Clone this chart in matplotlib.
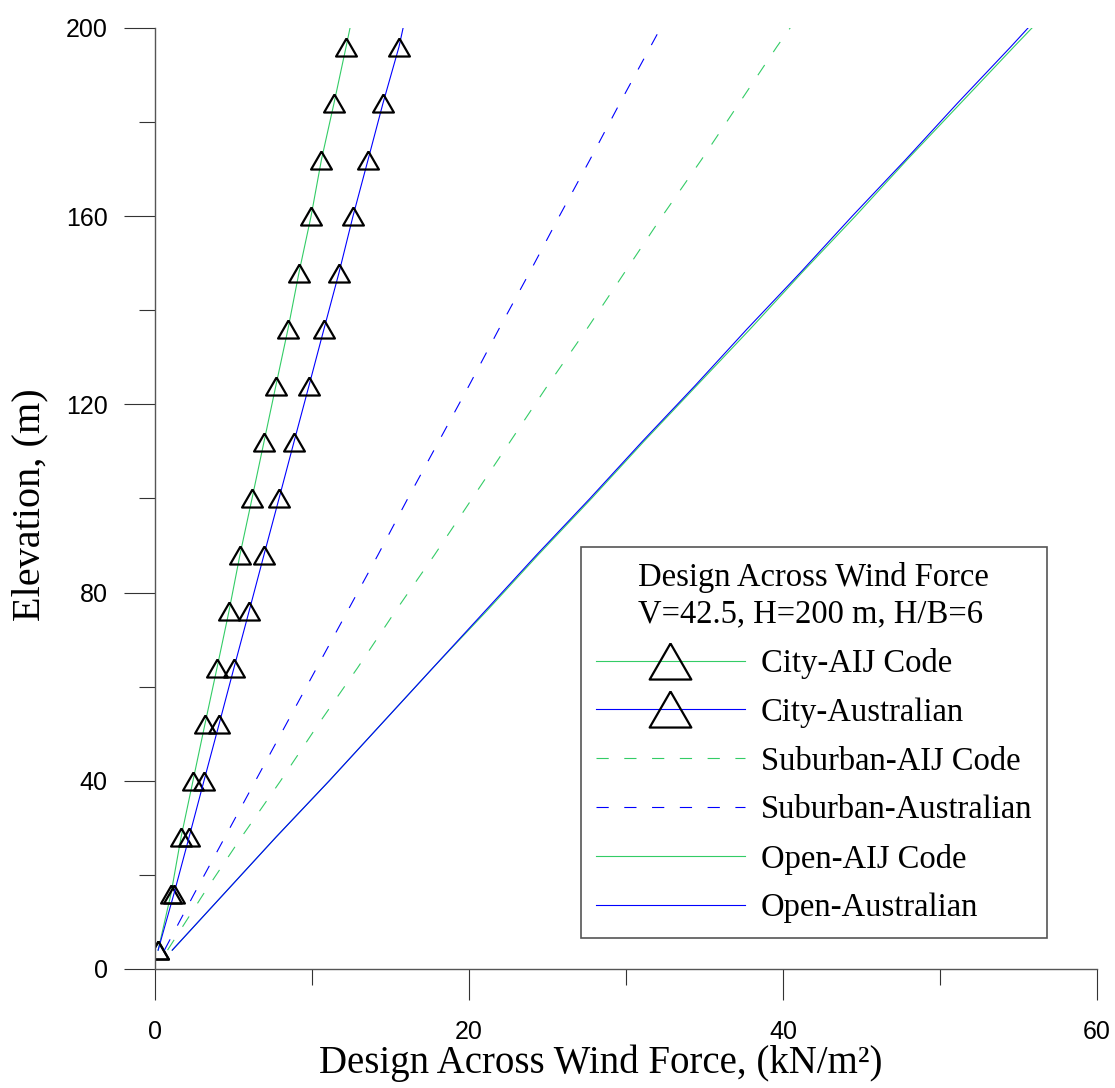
import numpy as np
import matplotlib
matplotlib.use('Agg')
import matplotlib.pyplot as plt
from matplotlib.ticker import MultipleLocator

# Elevation levels (m) where the force was evaluated; last point is the roof
elev = [4, 16, 28, 40, 52, 64, 76, 88, 100, 112, 124, 136, 148, 160, 172, 184, 196, 200]

# Design across wind force (kN/m2) for each terrain / code
city_aij = [0.2, 1.02, 1.66, 2.42, 3.18, 3.95, 4.71, 5.41, 6.18, 6.94, 7.7, 8.47,
            9.17, 9.94, 10.6, 11.4, 12.17, 12.42]
city_aus = [0.2, 1.21, 2.17, 3.12, 4.08, 5.03, 5.99, 6.94, 7.9, 8.85, 9.81, 10.76,
            11.72, 12.61, 13.57, 14.52, 15.54, 15.8]
suburban_aij = [0.8, 3.1, 5.5, 8.0, 10.4, 12.9, 15.3, 17.8, 20.2, 22.6, 25.0, 27.5,
                29.9, 32.3, 34.8, 37.2, 39.6, 40.45]
suburban_aus = [0.6, 2.5, 4.45, 6.4, 8.35, 10.3, 12.25, 14.2, 16.1, 18.05, 20.0, 21.9,
                23.85, 25.75, 27.7, 29.6, 31.55, 32.2]
open_aij = [1.1, 4.4, 7.7, 11.1, 14.4, 17.7, 21.1, 24.4, 27.8, 31.1, 34.5, 37.9,
            41.2, 44.6, 47.9, 51.3, 54.7, 55.85]
open_aus = [1.1, 4.4, 7.7, 11.1, 14.4, 17.7, 21.0, 24.3, 27.7, 31.0, 34.4, 37.7,
            41.1, 44.4, 47.8, 51.1, 54.5, 55.6]

green = '#33cc66'
blue = '#0000ff'
serif = 'Liberation Serif'
sans = 'Liberation Sans'

# equilateral open triangle marker
tri_verts = [(0, 0.433), (-0.5, -0.433), (0.5, -0.433), (0, 0.433)]

fig = plt.figure(figsize=(11.15, 10.88), dpi=100)
ax = fig.add_axes([0.139, 0.1094, 0.845, 0.8649])

marks = list(range(17))
tri = dict(marker=tri_verts, ms=15, mfc='none', mec='black', mew=1.6, markevery=marks)
dash = (0, (11, 14))
lw = 0.8

ax.plot(city_aij, elev, color=green, lw=lw, label='City-AIJ Code', **tri)
ax.plot(city_aus, elev, color=blue, lw=lw, label='City-Australian', **tri)
ax.plot(suburban_aij, elev, color=green, lw=lw, ls=dash, label='Suburban-AIJ Code')
ax.plot(suburban_aus, elev, color=blue, lw=lw, ls=dash, label='Suburban-Australian')
ax.plot(open_aij, elev, color=green, lw=lw, label='Open-AIJ Code')
ax.plot(open_aus, elev, color=blue, lw=lw, label='Open-Australian')

ax.set_xlim(0, 60)
ax.set_ylim(0, 200)
ax.xaxis.set_major_locator(MultipleLocator(20))
ax.xaxis.set_minor_locator(MultipleLocator(10))
ax.yaxis.set_major_locator(MultipleLocator(40))
ax.yaxis.set_minor_locator(MultipleLocator(20))

for s in ['top', 'right']:
    ax.spines[s].set_visible(False)
for s in ['left', 'bottom']:
    ax.spines[s].set_color('#555555')
    ax.spines[s].set_linewidth(1.0)

ax.tick_params(which='major', direction='out', length=22, width=0.8, color='#333333')
ax.tick_params(which='minor', direction='out', length=11.5, width=0.8, color='#333333')
ax.tick_params(axis='x', which='major', pad=15)
ax.tick_params(axis='y', which='major', pad=12)
for lab in ax.get_xticklabels() + ax.get_yticklabels():
    lab.set_fontfamily(sans)
    lab.set_fontsize(18)

ax.set_xlabel('Design Across Wind Force, (kN/m²)', family=serif, fontsize=28)
ax.set_ylabel('Elevation, (m)', family=serif, fontsize=29)
ax.xaxis.set_label_coords(0.473, -0.08)
ax.yaxis.set_label_coords(-0.113, 0.493)

leg = ax.legend(title='Design Across Wind Force\nV=42.5, H=200 m, H/B=6',
                loc='upper left', bbox_to_anchor=(0.452, 0.4485), borderaxespad=0,
                prop={'family': serif, 'size': 23.5}, numpoints=1, markerscale=2.0,
                handlelength=4.57, handletextpad=0.49, labelspacing=0.56,
                borderpad=0.45, fancybox=False, framealpha=1)
leg.get_title().set_fontfamily(serif)
leg.get_title().set_fontsize(23.5)
leg.get_title().set_linespacing(1.28)
frame = leg.get_frame()
frame.set_edgecolor('#555555')
frame.set_linewidth(1.2)

fig.savefig('out.png', dpi=100)
